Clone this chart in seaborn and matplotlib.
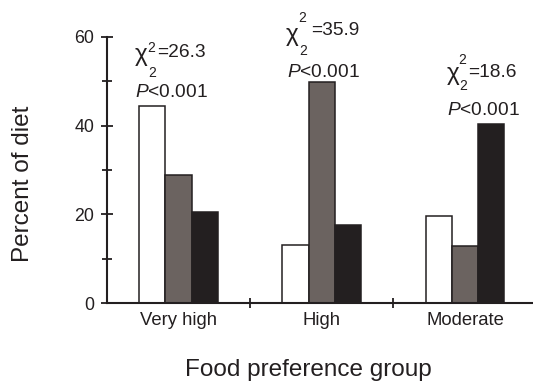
import matplotlib
matplotlib.use("Agg")
import matplotlib.pyplot as plt
import seaborn as sns
import pandas as pd
from matplotlib.ticker import FixedLocator, NullFormatter, FixedFormatter

# ---- data ----
groups = ["Very high", "High", "Moderate"]
series = ["Food A", "Food B", "Food C"]
vals_a = [44.5, 13.2, 19.7]
vals_b = [28.8, 49.7, 12.8]
vals_c = [20.6, 17.6, 40.3]
chi_values = ["26.3", "35.9", "18.6"]
p_texts = ["<0.001", "<0.001", "<0.001"]
y_major = [0, 20, 40, 60]
y_minor = [10, 30, 50]

INK = "#231f20"
colors = ["#ffffff", "#6b6360", "#231f20"]

sns.set_theme(style="ticks")
plt.rcParams["font.family"] = ["Liberation Sans", "DejaVu Sans"]
plt.rcParams["mathtext.fontset"] = "custom"
plt.rcParams["mathtext.rm"] = "Liberation Sans"
plt.rcParams["mathtext.it"] = "Liberation Sans:italic"
plt.rcParams["text.color"] = INK

df = pd.DataFrame({
    "group": groups * 3,
    "series": [s for s in series for _ in groups],
    "value": vals_a + vals_b + vals_c,
})

fig = plt.figure(figsize=(5.33, 3.82), dpi=100)
ax = fig.add_axes([0.2002, 0.206, 0.8068, 0.698])

sns.barplot(data=df, x="group", y="value", hue="series", order=groups,
            hue_order=series, palette=colors, saturation=1, width=0.55,
            edgecolor=INK, linewidth=1.1, errorbar=None, legend=False, ax=ax)

ax.set_xlim(-0.5, 2.5)
ax.set_ylim(0, 60)
for s in ["top", "right"]:
    ax.spines[s].set_visible(False)
for s in ["left", "bottom"]:
    ax.spines[s].set_linewidth(1.5)
    ax.spines[s].set_color(INK)
    ax.spines[s].set_zorder(3)

ax.set_yticks(y_major)
ax.yaxis.set_minor_locator(FixedLocator(y_minor))
ax.tick_params(axis="y", which="major", direction="inout", length=8.6, width=1.3,
               pad=4.6, labelsize=12.8, color=INK, labelcolor=INK)
ax.tick_params(axis="y", which="minor", direction="inout", length=6.5, width=1.3,
               color=INK)

ax.xaxis.set_major_locator(FixedLocator([0.5, 1.5]))
ax.xaxis.set_major_formatter(NullFormatter())
ax.xaxis.set_minor_locator(FixedLocator(list(range(len(groups)))))
ax.xaxis.set_minor_formatter(FixedFormatter(groups))
ax.tick_params(axis="x", which="major", direction="inout", length=7.2, width=1.3,
               color=INK)
ax.tick_params(axis="x", which="minor", length=0, pad=6, labelsize=13.3,
               labelcolor=INK)

ax.set_xlabel("Food preference group", fontsize=17.5, color=INK)
ax.set_ylabel("Percent of diet", fontsize=17.5, color=INK)
ax.xaxis.set_label_coords(0.469, -0.273)
ax.xaxis.label.set_va("baseline")
ax.yaxis.set_label_coords(-0.18, 0.4467)
ax.yaxis.label.set_va("baseline")

# annotation layout: anchor (data) and pixel offsets of parts
anchors = [(-0.3026, 55.49), (0.749, 60.37), (1.874, 50.99)]
offs = [
    # chi, sup, eq, sub, P
    [(0, -4), (12.7, 5), (22.2, 0), (13, -20), (0, -40)],
    [(0, -6), (12.3, 13.3), (25.8, 0), (13.3, -20), (1, -41.7)],
    [(0, -3), (11, 12.7), (21.5, 0), (12, -13.3), (0, -38.3)],
]
for (ax_x, ax_y), o, cv, pt in zip(anchors, offs, chi_values, p_texts):
    parts = [("χ", 17.5), ("2", 10), ("=" + cv, 13.8), ("2", 10), ("$P$" + pt, 13.8)]
    for (txt, fs), (dx, dy) in zip(parts, o):
        ax.annotate(txt, xy=(ax_x, ax_y), xycoords="data", xytext=(dx, dy),
                    textcoords="offset pixels", ha="left", va="baseline",
                    fontsize=fs, color=INK, annotation_clip=False)

fig.savefig("out.png", dpi=100)
